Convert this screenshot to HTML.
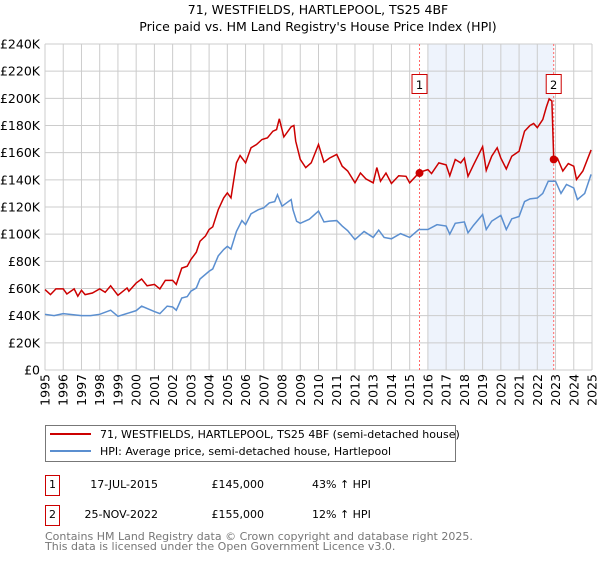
<!DOCTYPE html>
<html><head><meta charset="utf-8"><style>
body{margin:0;background:#fff;font-family:"Liberation Sans","DejaVu Sans",sans-serif}
svg text{font-family:"DejaVu Sans","Liberation Sans",sans-serif}
</style></head><body>
<svg id="c" width="600" height="560" xmlns="http://www.w3.org/2000/svg">
<text x="318" y="14" text-anchor="middle" font-size="12.5" fill="#000">71, WESTFIELDS, HARTLEPOOL, TS25 4BF</text>
<text x="318" y="31" text-anchor="middle" font-size="12.5" fill="#000">Price paid vs. HM Land Registry's House Price Index (HPI)</text>
<g id="plot"></g>
<rect x="45.5" y="425.5" width="410" height="36" fill="#fff" stroke="#777"/>
<line x1="50" y1="434" x2="91" y2="434" stroke="#cc0000" stroke-width="2"/>
<text x="100" y="438" font-size="11">71, WESTFIELDS, HARTLEPOOL, TS25 4BF (semi-detached house)</text>
<line x1="50" y1="451" x2="91" y2="451" stroke="#5b8fd0" stroke-width="2"/>
<text x="100" y="455" font-size="11">HPI: Average price, semi-detached house, Hartlepool</text>
<g>
<rect x="45.5" y="475.5" width="14" height="20" fill="#fff" stroke="#cc0000"/>
<text x="52.5" y="488" font-size="11" text-anchor="middle">1</text>
<text x="158" y="488" font-size="11" text-anchor="end">17-JUL-2015</text>
<text x="264" y="488" font-size="11" text-anchor="end">£145,000</text>
<text x="312" y="488" font-size="11">43% ↑ HPI</text></g>
<g>
<rect x="45.5" y="505.5" width="14" height="20" fill="#fff" stroke="#cc0000"/>
<text x="52.5" y="518" font-size="11" text-anchor="middle">2</text>
<text x="158" y="518" font-size="11" text-anchor="end">25-NOV-2022</text>
<text x="264" y="518" font-size="11" text-anchor="end">£155,000</text>
<text x="312" y="518" font-size="11">12% ↑ HPI</text></g>
<text x="45" y="540" font-size="11" fill="#777">Contains HM Land Registry data © Crown copyright and database right 2025.</text>
<text x="45" y="550" font-size="11" fill="#777">This data is licensed under the Open Government Licence v3.0.</text>
</svg>
<script>
const hpiYears=[1995,1995.5,1996,1997,1997.5,1998,1998.6,1999,2000,2000.3,2001,2001.3,2001.7,2002,2002.2,2002.5,2002.8,2003,2003.3,2003.5,2004,2004.2,2004.5,2004.8,2005,2005.2,2005.5,2005.8,2006,2006.3,2006.7,2007,2007.3,2007.6,2007.75,2008,2008.5,2008.6,2008.8,2009,2009.5,2010,2010.3,2010.6,2011,2011.3,2011.6,2012,2012.5,2013,2013.3,2013.6,2014,2014.5,2015,2015.5,2016,2016.5,2017,2017.2,2017.5,2018,2018.2,2018.5,2019,2019.2,2019.5,2020,2020.3,2020.6,2021,2021.3,2021.6,2022,2022.3,2022.6,2023,2023.3,2023.6,2024,2024.2,2024.6,2024.95];
const hpiValues=[41,40,41.5,40,40,41,44,39.5,43.7,47,43,41.5,47,46.4,44,53,54,58,60.4,67,72.7,74.4,84,88.7,91,89,102,110,107,115,118,119.4,123,124,129,120.6,125.5,118,109.5,108,111,117,109,109.6,110,106,102.6,96,102,97.6,103,97.6,96.6,100.4,97.6,103.4,103.4,107,106,100,108,109,101,106.5,114.5,103.4,109.6,113.8,103.4,111.3,113,124,126,126.6,130,139,139,130,136.6,134,125.5,130,144];
const redYears=[1995,1995.3,1995.6,1996,1996.2,1996.6,1996.8,1997,1997.2,1997.6,1998,1998.3,1998.6,1999,1999.5,1999.6,2000,2000.3,2000.6,2001,2001.3,2001.6,2002,2002.2,2002.5,2002.8,2003,2003.3,2003.5,2003.8,2004,2004.2,2004.5,2004.8,2005,2005.2,2005.5,2005.7,2006,2006.3,2006.6,2006.9,2007.2,2007.5,2007.7,2007.85,2008.1,2008.5,2008.65,2008.75,2009,2009.3,2009.6,2010,2010.3,2010.6,2011,2011.3,2011.6,2012,2012.3,2012.6,2013,2013.2,2013.4,2013.7,2014,2014.4,2014.8,2015,2015.54,2016,2016.2,2016.6,2017,2017.2,2017.5,2017.8,2018,2018.2,2018.5,2019,2019.2,2019.5,2019.8,2020,2020.3,2020.6,2021,2021.3,2021.6,2021.8,2022,2022.3,2022.5,2022.65,2022.8,2022.9,2023.1,2023.4,2023.7,2024,2024.15,2024.5,2024.95];
const redValues=[59.2,55.5,59.7,59.7,56,59.7,54.3,58.7,55.5,56.7,59.7,57.2,62,55,60.4,58,64,67,62,63,59.7,66,66,63,75,76.4,81.3,86.7,94.8,98.6,103.4,105.4,118,126.7,130.4,126.7,152.5,157.9,152.5,163.6,166,169.7,170.9,175.8,177,184.9,171.6,179,180,168.5,155,149,152.5,166,153,156,158.7,150,146.5,137.8,145,140.7,137.8,149,139,145,137.3,143,142.6,137.8,145.6,147.5,144.6,152.5,151,143,155,152.5,156,142.6,151,164.4,147,157.4,163.6,156,148,157.4,161,175.8,180,181.5,178.4,184.4,193.7,199.6,198,156,156,146.5,152,150,140.3,146.5,162];
const saleYears=[2015.54,2022.9];
const salePrices=[145,155];
const saleLabels=["1","2"];
const yTicks=[0,20,40,60,80,100,120,140,160,180,200,220,240];
const xTicks=[1995,1996,1997,1998,1999,2000,2001,2002,2003,2004,2005,2006,2007,2008,2009,2010,2011,2012,2013,2014,2015,2016,2017,2018,2019,2020,2021,2022,2023,2024,2025];

const X0=45,X1=592,Y0=370,Y1=44;
const xs=y=>X0+(y-1995)/30*(X1-X0);
const ys=v=>Y0-v/240*(Y0-Y1);
const NS="http://www.w3.org/2000/svg";
const g=document.getElementById('plot');
function mk(t,a){const e=document.createElementNS(NS,t);for(const k in a)e.setAttribute(k,a[k]);g.appendChild(e);return e;}
let e=mk('rect',{x:xs(2016),y:Y1,width:xs(saleYears[1])-xs(2016),height:Y0-Y1,fill:'#eef3fc'});


yTicks.forEach(v=>{
 let l=mk('line',{x1:X0,x2:X1,y1:ys(v),y2:ys(v),stroke:'#cccccc'});
 
 
 let t=mk('text',{x:X0-5,y:ys(v)+4.5,'text-anchor':'end','font-size':'12.5'});
 t.textContent=v===0?'£0':'£'+v+'K';
 
 
});
xTicks.forEach(y=>{
 let l=mk('line',{x1:xs(y),x2:xs(y),y1:Y1,y2:Y0,stroke:'#cccccc'});
 
 
 let t=mk('text',{x:0,y:0,'text-anchor':'end','font-size':'12.5',transform:`translate(${xs(y)+4.5},${Y0+4}) rotate(-90)`});
 t.textContent=y;
 
 
});
saleYears.forEach((y,i)=>{
 let l=mk('line',{x1:xs(y),x2:xs(y),y1:Y1,y2:Y0,stroke:'#ff6666','stroke-dasharray':'2,2'});
 
 
});
let p=mk('polyline',{points:hpiYears.map((y,i)=>xs(y)+','+ys(hpiValues[i])).join(' '),fill:'none',stroke:'#5b8fd0','stroke-width':1.5});


p=mk('polyline',{points:redYears.map((y,i)=>xs(y)+','+ys(redValues[i])).join(' '),fill:'none',stroke:'#cc0000','stroke-width':1.5});


saleYears.forEach((y,i)=>{
 let c=mk('circle',{cx:xs(y),cy:ys(salePrices[i]),r:4,fill:'#cc0000'});
 
 
 let r=mk('rect',{x:xs(y)-7.5,y:74.5,width:15,height:19,fill:'#fff',stroke:'#cc0000'});
 
 
 let t=mk('text',{x:xs(y),y:89,'text-anchor':'middle','font-size':'11.5'});
 t.textContent=saleLabels[i];
 
 
});
</script>
</body></html>
